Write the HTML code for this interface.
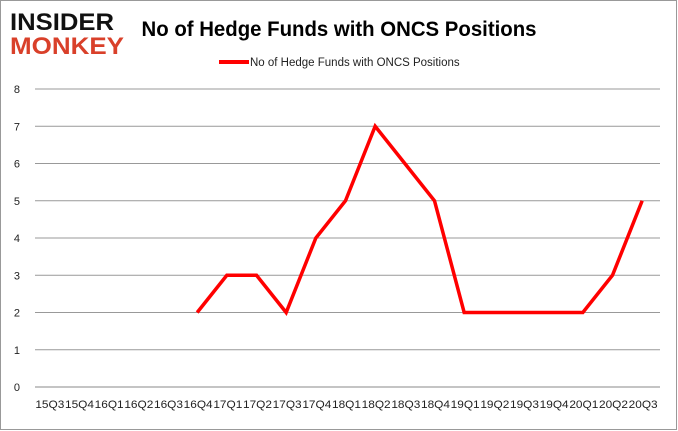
<!DOCTYPE html>
<html><head><meta charset="utf-8"><style>
body{margin:0;background:#fff;}
svg{display:block;font-family:"Liberation Sans",sans-serif;}
</style></head><body>
<svg id="c" width="678" height="431" viewBox="0 0 678 431">
<rect x="0.5" y="0.5" width="676" height="429" fill="#fff" stroke="#999"/>
<g>
<text x="10" y="30" font-size="24" font-weight="bold" fill="#111" textLength="104" lengthAdjust="spacingAndGlyphs">INSIDER</text>
<text x="10" y="54" font-size="24" font-weight="bold" fill="#d9402a" textLength="114" lengthAdjust="spacingAndGlyphs">MONKEY</text>
</g>
<text x="339" y="36" font-size="21" font-weight="bold" text-anchor="middle" fill="#000" textLength="395" lengthAdjust="spacingAndGlyphs">No of Hedge Funds with ONCS Positions</text>
<g>
<line x1="219" y1="62" x2="249" y2="62" stroke="#f00" stroke-width="4"/>
<text x="250" y="66" font-size="11.5" fill="#222">No of Hedge Funds with ONCS Positions</text>
</g>
<g id="grid"></g><g id="xl"></g>
<polyline id="line" fill="none" stroke="#f00" stroke-width="3.5" stroke-linejoin="miter"/>
</svg>
<script>
const categories=["15Q3","15Q4","16Q1","16Q2","16Q3","16Q4","17Q1","17Q2","17Q3","17Q4","18Q1","18Q2","18Q3","18Q4","19Q1","19Q2","19Q3","19Q4","20Q1","20Q2","20Q3"];
const values=[null,null,null,null,null,2,3,3,2,4,5,7,6,5,2,2,2,2,2,3,5];
const yTicks=[0,1,2,3,4,5,6,7,8];
const NS="http://www.w3.org/2000/svg";
const gx0=35,gx1=660,x0=34,x1=657,y0=387,y1=89,ymax=8;
const bw=(x1-x0)/categories.length;
const xs=i=>x0+(i+0.5)*bw;
const ys=v=>y0-(y0-y1)*v/ymax;
const g=document.getElementById('grid'),xl=document.getElementById('xl');
yTicks.forEach(t=>{
 const l=document.createElementNS(NS,'line');
 l.setAttribute('x1',gx0);l.setAttribute('x2',gx1);l.setAttribute('y1',ys(t));l.setAttribute('y2',ys(t));
 l.setAttribute('stroke',t===0?'#888':'#999');l.setAttribute('stroke-width','1');
 
 
 g.appendChild(l);
 const tx=document.createElementNS(NS,'text');
 tx.setAttribute('x',20);tx.setAttribute('y',ys(t)+4);tx.setAttribute('font-size','11');tx.setAttribute('text-anchor','end');tx.setAttribute('fill','#222');
 tx.textContent=t;
 
 
 g.appendChild(tx);
});
categories.forEach((c,i)=>{
 const tx=document.createElementNS(NS,'text');
 tx.setAttribute('x',xs(i)+1);tx.setAttribute('y',408);tx.setAttribute('font-size','11');tx.setAttribute('text-anchor','middle');tx.setAttribute('fill','#222');
 tx.setAttribute('textLength','29');tx.setAttribute('lengthAdjust','spacingAndGlyphs');
 tx.textContent=c;
 
 
 xl.appendChild(tx);
});
const pts=[];values.forEach((v,i)=>{if(v!==null)pts.push(xs(i)+','+ys(v));});
document.getElementById('line').setAttribute('points',pts.join(' '));
</script>
</body></html>
